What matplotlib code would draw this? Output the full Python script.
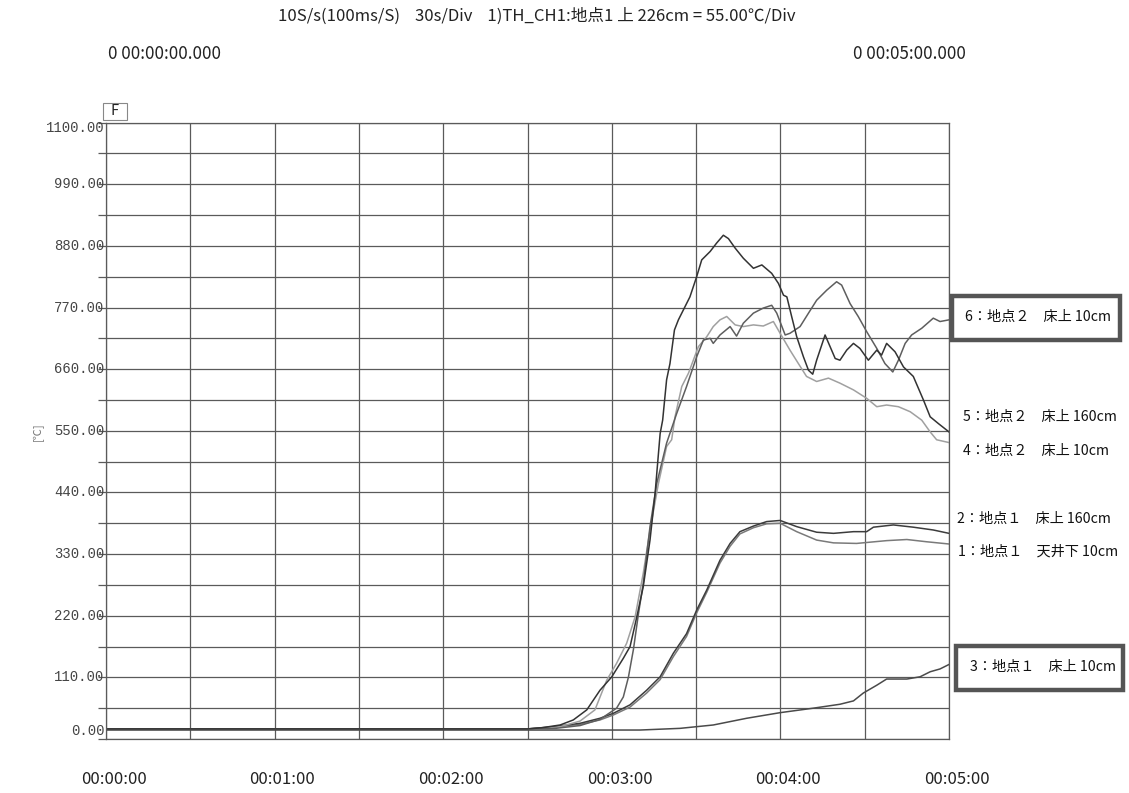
import matplotlib
matplotlib.use("Agg")
import matplotlib.pyplot as plt
from matplotlib.patches import Rectangle
from matplotlib.ticker import MultipleLocator

# ---------------- data (time in seconds, temperature in deg C) ----------------
t5 = [0, 150, 155, 161.6, 166.3, 171.1, 175.8, 180, 184.1, 186.5, 188.9, 191.2, 193.6, 195.4, 197.2,
      198.1, 199.5, 200.7, 202.3, 203.7, 205.5, 207.8, 210.2, 212, 215, 217.3, 219.7, 221.5, 223.9,
      226.8, 230.4, 233.4, 236.9, 239.3, 241.1, 242.3, 244, 245.8, 248.2, 250, 251.5, 252.9, 255.9,
      257.7, 259.5, 261.2, 263.6, 266, 268.3, 271.3, 274.3, 276, 277.8, 280.8, 283.8, 287.3, 290.9,
      293.3, 296.2, 300]
v5 = [18, 18, 20, 25, 34, 52, 87, 111, 144, 165, 218, 272, 355, 438, 545,
      569, 641, 670, 730, 748, 766, 789, 825, 855, 870, 885, 899, 893, 876,
      858, 840, 846, 831, 813, 792, 789, 754, 718, 682, 658, 651, 676, 721,
      700, 679, 676, 694, 706, 697, 676, 694, 685, 706, 691, 664, 647, 605,
      575, 563, 548]

t6 = [0, 155, 160, 168.7, 175.8, 181.7, 184.1, 185.9, 187.7, 189.5, 191.2, 193.6, 196, 199.5, 203.1,
      206.6, 210.2, 212.6, 215, 216.1, 218.5, 222.1, 224.4, 226.8, 230.4, 233.9, 236.9, 238.7, 241.7,
      243.4, 247, 250, 252.9, 256.5, 260, 261.8, 264.8, 267.7, 270.7, 274.3, 277.2, 280, 282, 284.4,
      286.7, 290.3, 294.4, 296.8, 300]
v6 = [18, 18, 19, 24, 35, 55, 75, 110, 160, 224, 278, 379, 456, 528, 581,
      629, 682, 712, 715, 706, 721, 736, 719, 742, 760, 769, 774, 760, 721,
      724, 736, 760, 783, 801, 816, 810, 777, 754, 727, 697, 670, 655, 676, 706,
      721, 733, 751, 745, 748]

t4 = [0, 155, 161.6, 168.7, 174, 178.2, 181.7, 185.3, 188.3, 191.2, 193.6, 196.6, 199.5, 201.3, 202.5,
      204.9, 207.3, 210.8, 213.8, 216.1, 218.5, 220.9, 223.9, 226.8, 230.4, 233.9, 237.5, 239.9, 243.4,
      246.4, 249.3, 252.9, 257.1, 261.2, 266, 270.7, 274.3, 277.8, 282, 286.2, 290.3, 293.3, 295.6, 300]
v4 = [18, 18, 22, 32, 52, 105, 135, 171, 218, 296, 373, 456, 522, 534, 575,
      629, 653, 700, 718, 736, 748, 754, 739, 736, 739, 737, 745, 724, 694,
      670, 647, 638, 644, 635, 623, 608, 593, 596, 593, 584, 569, 548, 534, 529]

t2 = [0, 150, 159.2, 168.7, 175.8, 180.6, 186.5, 192.4, 197.2, 201.9, 206.6, 210.2, 213.8, 218.5, 222.1,
      225.6, 230.4, 235.1, 239.9, 245.8, 252.9, 258.9, 266, 270.7, 273.1, 280.2, 287.3, 294.4, 300]
v2 = [18, 18, 22, 28, 37, 46, 61, 87, 111, 153, 188, 230, 266, 319, 349,
      370, 380, 388, 390, 379, 369, 367, 370, 370, 378, 382, 378, 373, 367]

t1 = [0, 150, 159.2, 168.7, 175.8, 180.6, 186.5, 192.4, 197.2, 201.9, 206.6, 210.2, 213.8, 218.5, 222.1,
      225.6, 230.4, 235.1, 239.9, 245.8, 252.9, 258.9, 267.1, 277.8, 285, 292, 300]
v1 = [18, 18, 21, 26, 34, 43, 57, 82, 106, 147, 183, 225, 262, 314, 344,
      366, 377, 384, 385, 370, 355, 350, 349, 354, 356, 352, 348]

t3 = [0, 190, 204.3, 216.1, 228, 239.9, 251.7, 261.2, 266, 269.5, 274.3, 277.8, 285, 289.7, 293.3, 296.8, 300]
v3 = [16, 16, 19, 25, 37, 47, 55, 62, 68, 82, 96, 107, 107, 111, 120, 125, 133]

y_labels = ["0.00", "110.00", "220.00", "330.00", "440.00", "550.00",
            "660.00", "770.00", "880.00", "990.00", "1100.00"]
x_labels = ["00:00:00", "00:01:00", "00:02:00", "00:03:00", "00:04:00", "00:05:00"]

title = "10S/s(100ms/S)    30s/Div    1)TH_CH1:地点1 上 226cm = 55.00℃/Div"
start_txt = "0 00:00:00.000"
end_txt = "0 00:05:00.000"

legend_texts = ["6：地点２　床上 10cm", "5：地点２　床上 160cm", "4：地点２　床上 10cm",
                "2：地点１　床上 160cm", "1：地点１　天井下 10cm", "3：地点１　床上 10cm"]

# ---------------- figure ----------------
W, H = 1129, 793
fig = plt.figure(figsize=(W / 100, H / 100), dpi=100)
fig.patch.set_facecolor("white")

def fx(px):
    return px / W

def fy(py):
    return 1 - py / H

L, R, T, B = 106, 949, 122.6, 739
ax = fig.add_axes([fx(L), fy(B), fx(R) - fx(L), fy(T) - fy(B)])
ax.set_xlim(0, 300)
ax.set_ylim(0, 1100)

grid_c = "#5a5a5a"
ax.xaxis.set_major_locator(MultipleLocator(30))
ax.yaxis.set_major_locator(MultipleLocator(55))
ax.grid(True, color=grid_c, linewidth=0.9)
ax.set_axisbelow(True)
for s in ax.spines.values():
    s.set_color(grid_c)
    s.set_linewidth(0.9)
ax.tick_params(axis="x", length=0, labelbottom=False)
ax.tick_params(axis="y", length=6, color=grid_c, width=0.9, labelleft=False)

cjk = ["Noto Sans CJK JP", "DejaVu Sans"]

lw = 1.1
ax.plot(t3, v3, color="#4a4a4a", lw=lw)
ax.plot(t1, v1, color="#7a7a7a", lw=lw)
ax.plot(t2, v2, color="#3c3c3c", lw=lw)
ax.plot(t4, v4, color="#a0a0a0", lw=lw)
ax.plot(t6, v6, color="#5e5e5e", lw=lw)
ax.plot(t5, v5, color="#333333", lw=lw)

# y labels
for i, lab in enumerate(y_labels):
    val = i * 110
    dy = 0
    if i == 0:
        dy = 6
    elif i == len(y_labels) - 1:
        dy = -4
    ax.annotate(lab, xy=(0, val), xycoords=("axes fraction", "data"),
                xytext=(-1, dy), textcoords="offset points",
                ha="right", va="center", fontsize=10, color="#444444",
                family=["Liberation Mono", "DejaVu Sans Mono"])

# x labels (shifted right of gridlines as in the printout)
for i, lab in enumerate(x_labels):
    xp = 113.5 + i * 168.7
    fig.text(fx(xp), fy(779), lab, ha="center", va="center", fontsize=12,
             color="#222222", family=cjk)

fig.text(fx(38), fy(432), "[℃]", rotation=90, ha="center", va="center",
         fontsize=8, color="#777777", family=cjk)

# header
fig.text(fx(537), fy(16), title, ha="center", va="center", fontsize=12,
         color="#222222", family=cjk)
fig.text(fx(108), fy(54), start_txt, ha="left", va="center", fontsize=12.2,
         color="#222222", family=cjk)
fig.text(fx(853), fy(54), end_txt, ha="left", va="center", fontsize=12.2,
         color="#222222", family=cjk)

# F box
fig.patches.append(Rectangle((fx(103), fy(120)), fx(127) - fx(103), fy(103) - fy(120),
                             transform=fig.transFigure, fill=False, edgecolor="#888888", lw=0.8))
fig.text(fx(115), fy(111), "F", ha="center", va="center", fontsize=10.5,
         color="#222222", family=cjk)

# right-hand labels
label_pos = [(965, 317), (963, 417), (963, 451), (957, 519), (958, 552), (970, 667)]
for (xp, yp), txt in zip(label_pos, legend_texts):
    fig.text(fx(xp), fy(yp), txt, ha="left", va="center", fontsize=10.2,
             color="#111111", family=cjk)

for (x0, y0, x1, y1) in [(952, 296, 1120, 340), (956, 646, 1123, 690)]:
    fig.patches.append(Rectangle((fx(x0), fy(y1)), fx(x1) - fx(x0), fy(y0) - fy(y1),
                                 transform=fig.transFigure, fill=False,
                                 edgecolor="#555555", lw=3.2))

fig.savefig("out.png", dpi=100, facecolor="white")
